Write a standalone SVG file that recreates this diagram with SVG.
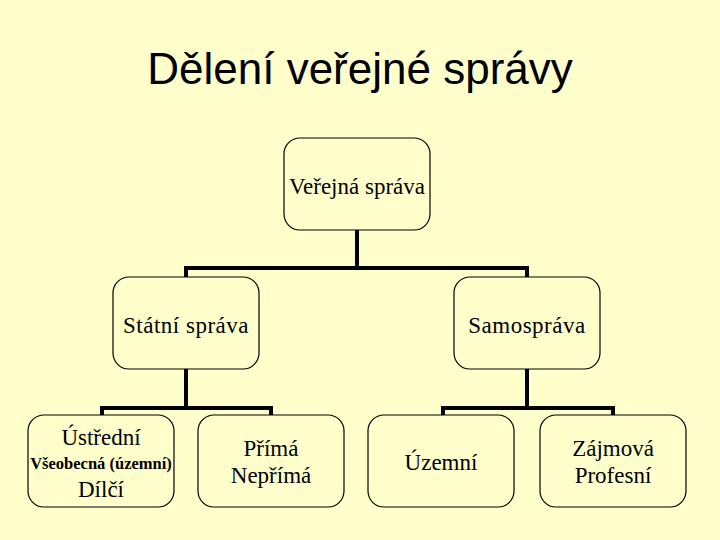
<svg xmlns="http://www.w3.org/2000/svg" width="720" height="540" viewBox="0 0 720 540">
<style>
.box{fill:#FFFFCC;stroke:#000;stroke-width:1.2}
.t{font-family:'Liberation Serif','Times New Roman','DejaVu Serif',serif;font-size:23px;fill:#000;text-anchor:middle}
.s{font-family:'Liberation Serif','Times New Roman','DejaVu Serif',serif;font-size:16.5px;font-weight:bold;fill:#000;text-anchor:middle}
.c{fill:none;stroke:#000;stroke-width:4}
</style>
<rect width="720" height="540" fill="#FFFFCC"/>
<text x="360" y="84" font-family="'Liberation Sans', Arial, sans-serif" font-size="44" text-anchor="middle" fill="#000">Dělení veřejné správy</text>
<g id="connectors">
<path class="c" d="M357,230 V268 M186,268 H527 M186,266 V277 M527,266 V277"/>
<path class="c" d="M186,369 V408 M102,408 H271 M102,406 V415 M271,406 V415"/>
<path class="c" d="M527,369 V408 M443,408 H613 M443,406 V415 M613,406 V415"/>
</g>
<g id="n0"><rect class="box" x="284" y="138" width="146" height="92" rx="16"/><text class="t" x="357" y="194" font-size="24">Veřejná správa</text></g>
<g id="n1"><rect class="box" x="113" y="277" width="146" height="92" rx="16"/><text class="t" x="186" y="333" letter-spacing="0.5">Státní správa</text></g>
<g id="n2"><rect class="box" x="454" y="277" width="146" height="92" rx="16"/><text class="t" x="527" y="333" letter-spacing="0.5">Samospráva</text></g>
<g id="n3"><rect class="box" x="28" y="415" width="146" height="92" rx="16"/><text class="t" x="101" y="445">Ústřední</text><text class="s" x="101" y="469">Všeobecná (územní)</text><text class="t" x="101" y="497">Dílčí</text></g>
<g id="n4"><rect class="box" x="198" y="415" width="146" height="92" rx="16"/><text class="t" x="271" y="456">Přímá</text><text class="t" x="271" y="483">Nepřímá</text></g>
<g id="n5"><rect class="box" x="368" y="415" width="146" height="92" rx="16"/><text class="t" x="441" y="470">Územní</text></g>
<g id="n6"><rect class="box" x="540" y="415" width="146" height="92" rx="16"/><text class="t" x="613" y="456">Zájmová</text><text class="t" x="613" y="483">Profesní</text></g>
</svg>
